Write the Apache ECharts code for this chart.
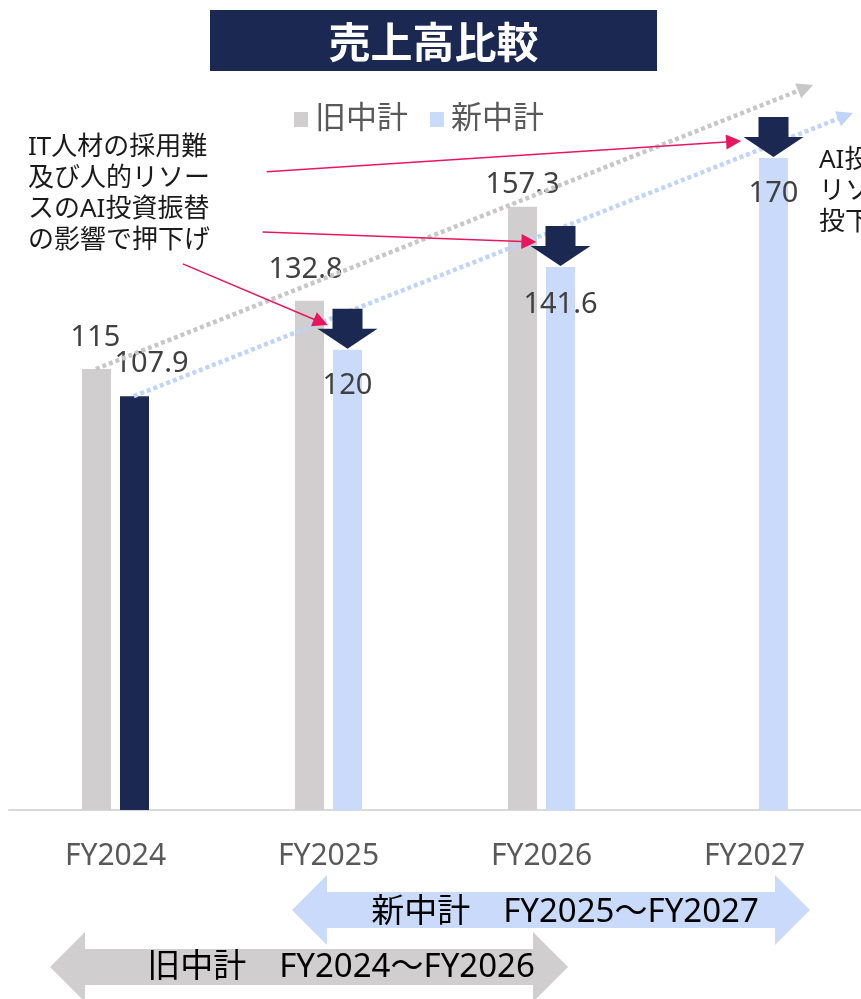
<!DOCTYPE html>
<html lang="ja">
<head>
<meta charset="UTF-8">
<title>売上高比較</title>
<script src="https://cdn.jsdelivr.net/npm/echarts@6/dist/echarts.min.js"></script>
<style>
  html, body { margin: 0; padding: 0; background: #fff; }
  #chart { width: 861px; height: 999px; }
</style>
</head>
<body>
<div id="chart"></div>
<script>
// データ
var categories = ['FY2024', 'FY2025', 'FY2026', 'FY2027'];
var oldPlan = [115, 132.8, 157.3, null];
var newPlan = [107.9, 120, 141.6, 170];
var seriesNames = ['旧中計', '新中計'];
var noteLeft = 'IT人材の採用難\n及び人的リソー\nスのAI投資振替\nの影響で押下げ';
var noteRight = 'AI投資\nリソース\n投下';
var rangeNew = '新中計　FY2025～FY2027';
var rangeOld = '旧中計　FY2024～FY2026';

var FONT = "'Noto Sans', 'Noto Sans CJK JP', sans-serif";
var NAVY = '#1b2852', GRAY = '#d0cece', LIGHT = '#c9dafa', PINK = '#e8175d';

// ラベル位置
var oldLabelPos = [[17, -1], [16, -4], [8, 0], [0, 0]];
var newLabelPos = [['top', 18, 17], ['insideTop', 21, 0], ['insideTop', 23, 0], ['insideTop', 21, 0]];

var oldData = oldPlan.map(function (v, i) {
    return { value: v == null ? '-' : v,
             label: { position: 'top', distance: oldLabelPos[i][0], offset: [oldLabelPos[i][1], 0] } };
});
var newData = newPlan.map(function (v, i) {
    var item = { value: v,
                 label: { position: newLabelPos[i][0], distance: newLabelPos[i][1], offset: [newLabelPos[i][2], 0] } };
    if (i === 0) item.itemStyle = { color: NAVY };
    return item;
});
// 下向き矢印（新中計の棒の上）
var dropData = newPlan.map(function (v, i) { return [i, v]; }).slice(1);

var valueLabel = { show: true, fontSize: 29, color: '#404040', fontFamily: FONT };

function mline(color, dash, width, size, from, to) {
    return {
        silent: true, animation: false,
        symbol: ['none', 'triangle'], symbolSize: size,
        label: { show: false },
        lineStyle: { color: color, type: dash, width: width, cap: 'butt', opacity: 1 },
        emphasis: { disabled: true },
        data: [[{ coord: from }, { coord: to }]]
    };
}

var chart = echarts.init(document.getElementById('chart'));
chart.setOption({
    animation: false,
    textStyle: { fontFamily: FONT },
    grid: { left: 9, right: -1, top: 43, bottom: 189 },
    legend: {
        data: seriesNames,
        left: 294, top: 104, padding: 0,
        icon: 'rect', itemWidth: 14, itemHeight: 15, itemGap: 22,
        textStyle: { fontSize: 31, color: '#595959', fontFamily: FONT, padding: [0, 0, 0, 2] }
    },
    xAxis: [{
        type: 'category', data: categories,
        axisLine: { lineStyle: { color: '#d9d9d9', width: 2 } },
        axisTick: { show: false },
        axisLabel: { fontSize: 30, color: '#595959', margin: 31, fontFamily: FONT }
    }, {
        type: 'value', min: -0.5, max: 3.5, show: false
    }],
    yAxis: { type: 'value', min: 0, max: 200, show: false, splitLine: { show: false } },
    series: [{
        name: seriesNames[0], type: 'bar', data: oldData,
        barWidth: 29, barGap: '31%',
        itemStyle: { color: GRAY }, label: valueLabel, z: 2
    }, {
        name: seriesNames[1], type: 'bar', data: newData,
        barWidth: 29,
        itemStyle: { color: LIGHT }, label: valueLabel, z: 2
    }, {
        // 点線トレンド
        type: 'line', xAxisIndex: 1, data: [], z: 3,
        markLine: mline('#c8c6c6', [4, 3], 4.5, [16, 16], [-0.092, 115], [3.240, 188.3])
    }, {
        type: 'line', xAxisIndex: 1, data: [], z: 3,
        markLine: mline('#bfd4f8', [4, 3], 4.5, [16, 16], [0.086, 107.9], [3.427, 181.0])
    }, {
        type: 'custom', z: 5, data: dropData,
        encode: { x: 0, y: 1 },
        renderItem: function (params, api) {
            var p = api.coord([api.value(0), api.value(1)]);
            var x = p[0] + 19, y = p[1] - 1;
            return {
                type: 'polygon',
                shape: { points: [[x - 15, y - 40], [x + 15, y - 40], [x + 15, y - 20], [x + 30, y - 20],
                                  [x, y], [x - 30, y - 20], [x - 15, y - 20]] },
                style: { fill: NAVY }
            };
        }
    }, {
        // 注記の矢印
        type: 'line', xAxisIndex: 1, data: [], z: 6,
        markLine: {
            silent: true, animation: false,
            symbol: ['none', 'triangle'], symbolSize: [15, 15],
            label: { show: false },
            lineStyle: { color: PINK, type: 'solid', width: 1.5 },
            emphasis: { disabled: true },
            data: [
                [{ coord: [0.710, 166.4] }, { coord: [2.902, 174.3] }],
                [{ coord: [0.691, 150.7] }, { coord: [1.941, 148.2] }],
                [{ coord: [0.316, 142.4] }, { coord: [0.964, 127.2] }]
            ]
        }
    }],
    graphic: [
        { type: 'rect', shape: { x: 210, y: 10, width: 447, height: 61 }, style: { fill: NAVY } },
        { type: 'text', style: { x: 433.5, y: 42, text: '売上高比較', align: 'center', verticalAlign: 'middle',
            fontSize: 42, fontWeight: 'bold', fontFamily: "'Noto Sans CJK JP'", fill: '#fff' } },
        { type: 'text', style: { x: 28, y: 132, text: noteLeft, fontSize: 26, lineHeight: 31,
            fontFamily: FONT, fill: '#1a1a1a' } },
        { type: 'text', style: { x: 819, y: 145, text: noteRight, fontSize: 26, lineHeight: 31,
            fontFamily: FONT, fill: '#1a1a1a' } },
        { type: 'polygon', shape: { points: [[292, 910], [327, 875], [327, 892], [775, 892], [775, 875], [810, 910],
            [775, 945], [775, 928], [327, 928], [327, 945]] }, style: { fill: LIGHT } },
        { type: 'text', style: { x: 565, y: 913, text: rangeNew, align: 'center', verticalAlign: 'middle',
            fontSize: 33, fontFamily: FONT, fill: '#000' } },
        { type: 'polygon', shape: { points: [[50, 967], [85, 932], [85, 949], [533, 949], [533, 932], [568, 967],
            [533, 1002], [533, 985], [85, 985], [85, 1002]] }, style: { fill: GRAY } },
        { type: 'text', style: { x: 341, y: 968, text: rangeOld, align: 'center', verticalAlign: 'middle',
            fontSize: 33, fontFamily: FONT, fill: '#000' } }
    ]
});
</script>
</body>
</html>
